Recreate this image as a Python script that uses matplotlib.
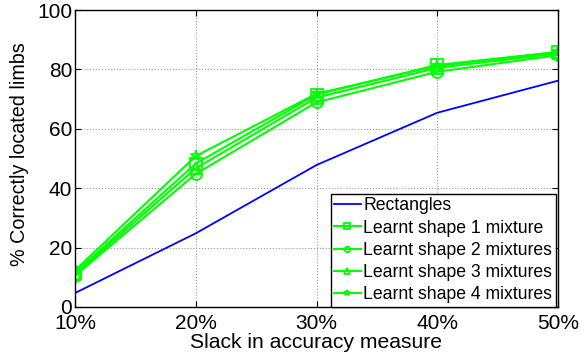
import matplotlib.pyplot as plt

plt.rcParams['font.family'] = ['Liberation Sans', 'DejaVu Sans']

slack = [10, 20, 30, 40, 50]
x_labels = ['10%', '20%', '30%', '40%', '50%']
rectangles = [4.7, 24.8, 47.8, 65.4, 76.2]
shape1 = [11.5, 48.3, 71.5, 81.5, 85.8]
shape2 = [10.5, 44.8, 68.9, 79.2, 84.8]
shape3 = [11.0, 46.7, 70.5, 80.5, 85.4]
shape4 = [12.3, 50.8, 71.8, 81.2, 85.9]

green = (0, 1, 0)

fig = plt.figure(figsize=(5.85, 3.53), dpi=100)
ax = fig.add_axes([75 / 585, 1 - 307 / 353, 483 / 585, 297 / 353])

ax.plot(slack, rectangles, color='blue', lw=1.3, label='Rectangles')
ax.plot(slack, shape1, color=green, lw=1.5, marker='s', ms=8, mfc='none', mew=1.3,
        label='Learnt shape 1 mixture')
ax.plot(slack, shape2, color=green, lw=1.5, marker='o', ms=8, mfc='none', mew=1.3,
        label='Learnt shape 2 mixtures')
ax.plot(slack, shape3, color=green, lw=1.5, marker='^', ms=8, mfc='none', mew=1.3,
        label='Learnt shape 3 mixtures')
ax.plot(slack, shape4, color=green, lw=1.5, marker='*', ms=8, mfc='none', mew=1.3,
        label='Learnt shape 4 mixtures')

ax.set_xlim(10, 50)
ax.set_ylim(0, 100)
ax.set_xticks(slack)
ax.set_xticklabels(x_labels)
ax.set_yticks([0, 20, 40, 60, 80, 100])
ax.tick_params(direction='in', top=True, right=True, labelsize=15, length=4, pad=2)
ax.tick_params(axis='x', pad=5)
ax.grid(True, linestyle=':', color='#999999', lw=0.8)
for s in ax.spines.values():
    s.set_linewidth(1.0)

ax.set_xlabel('Slack in accuracy measure', fontsize=15.2, labelpad=0)
ax.set_ylabel('% Correctly located limbs', fontsize=14.2)
ax.xaxis.set_label_coords(316 / 585, 1 - 348 / 353, transform=fig.transFigure)
ax.xaxis.label.set_va('baseline')
ax.yaxis.set_label_coords(20 / 585, 1 - 154 / 353, transform=fig.transFigure)
ax.yaxis.label.set_va('center')

leg = ax.legend(loc='lower right', bbox_to_anchor=(0.995, 0.0), fontsize=12.7,
                fancybox=False, edgecolor='black', framealpha=1,
                borderpad=0.2, labelspacing=0.3, handlelength=1.5,
                handletextpad=0.15, borderaxespad=0, markerscale=0.5)
leg.get_frame().set_linewidth(1.0)

fig.savefig('out.png', dpi=100)
